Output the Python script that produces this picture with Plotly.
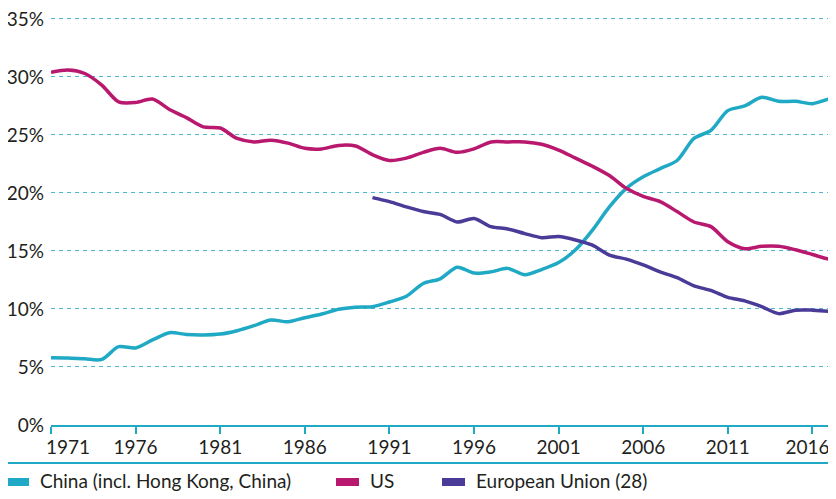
import plotly.graph_objects as go

# share of world total, per cent
years = list(range(1971, 2019))
china = [5.8, 5.78, 5.7, 5.65, 6.75, 6.64, 7.33, 7.96, 7.8, 7.76,
         7.84, 8.13, 8.56, 9.05, 8.9, 9.25, 9.57, 9.97, 10.15, 10.2,
         10.6, 11.1, 12.2, 12.6, 13.6, 13.1, 13.2, 13.5, 12.95, 13.4,
         14.0, 15.1, 16.8, 18.8, 20.4, 21.4, 22.1, 22.8, 24.7, 25.4,
         27.1, 27.5, 28.25, 27.9, 27.9, 27.7, 28.1, 28.2]
us = [30.4, 30.6, 30.3, 29.3, 27.85, 27.8, 28.1, 27.2, 26.5, 25.7,
      25.6, 24.7, 24.4, 24.55, 24.3, 23.85, 23.8, 24.1, 24.05, 23.3,
      22.8, 23.0, 23.5, 23.85, 23.5, 23.8, 24.4, 24.4, 24.4, 24.2,
      23.7, 23.0, 22.3, 21.5, 20.4, 19.7, 19.25, 18.4, 17.5, 17.1,
      15.8, 15.2, 15.4, 15.4, 15.1, 14.7, 14.3, 14.4]
eu_years = list(range(1990, 2019))
eu = [19.6, 19.25, 18.8, 18.4, 18.15, 17.5, 17.8, 17.1, 16.9, 16.5,
      16.15, 16.25, 15.95, 15.5, 14.65, 14.3, 13.8, 13.2, 12.7, 12.0,
      11.6, 11.0, 10.7, 10.2, 9.6, 9.9, 9.9, 9.8, 9.6]

x_ticks = list(range(1971, 2017, 5))
y_ticks = [0, 5, 10, 15, 20, 25, 30, 35]

TEAL = '#1fa9c4'
MAGENTA = '#b8186e'
PURPLE = '#4a3b98'
TXT = '#231f20'
FONT = 'Lato, Liberation Sans, sans-serif'

# the page body keeps an 8px margin on every side, so the figure is made
# 16px smaller (no scrollbars) and page positions are shifted by OFF
OFF = 8
W, H = 836 - 2 * OFF, 499 - 2 * OFF
L, R, T, B = 51 - OFF, 0, 4, 66
X_RANGE = [1971, 2016.92]
Y_TOP = 35.6


def px(x, y):
    # pixel position on the page -> paper coordinates
    x, y = x - OFF, y - OFF
    return (x - L) / (W - L - R), (H - B - y) / (H - T - B)


fig = go.Figure()

for name, xs, ys, col in [('China (incl. Hong Kong, China)', years, china, TEAL),
                          ('US', years, us, MAGENTA),
                          ('European Union (28)', eu_years, eu, PURPLE)]:
    fig.add_trace(go.Scatter(
        x=xs, y=ys, name=name, mode='lines',
        line=dict(color=col, width=3.5, shape='spline', smoothing=0.8),
        showlegend=False,
    ))

# hand made legend below the axis
legend_items = [('China (incl. Hong Kong, China)', TEAL, 6),
                ('US', MAGENTA, 336),
                ('European Union (28)', PURPLE, 442)]
shapes = []
annotations = []
for label, col, x0 in legend_items:
    a = px(max(x0, OFF), 478)
    b = px(x0 + 23, 486)
    shapes.append(dict(type='rect', xref='paper', yref='paper',
                       x0=a[0], x1=b[0], y0=a[1], y1=b[1],
                       fillcolor=col, line=dict(width=0)))
    t = px(x0 + 32, 480)
    annotations.append(dict(text=label, xref='paper', yref='paper',
                            x=t[0], y=t[1], xanchor='left', yanchor='middle',
                            showarrow=False, font=dict(size=19, color=TXT, family=FONT)))

s0 = px(OFF, 463)
s1 = px(836 - OFF, 463)
shapes.append(dict(type='line', xref='paper', yref='paper',
                   x0=s0[0], x1=s1[0], y0=s0[1], y1=s1[1],
                   line=dict(color=TEAL, width=2)))

tick_text = [str(v) for v in x_ticks]
tick_text[0] = '\u00a0' * 7 + tick_text[0]
tick_text[-1] = tick_text[-1] + '\u00a0' * 2

fig.update_layout(
    width=W, height=H,
    margin=dict(l=L, r=R, t=T, b=B, autoexpand=False),
    plot_bgcolor='white', paper_bgcolor='white',
    font=dict(family=FONT, size=19, color=TXT),
    xaxis=dict(
        range=X_RANGE, automargin=False,
        tickvals=x_ticks, ticktext=tick_text,
        showgrid=False, zeroline=False,
        showline=True, linecolor=TEAL, linewidth=2,
        ticks='outside', ticklen=7, tickwidth=1.5, tickcolor=TEAL,
        ticklabelstandoff=-3, ticklabeloverflow='allow',
        tickfont=dict(size=19, color=TXT),
    ),
    yaxis=dict(
        range=[0, Y_TOP], automargin=False,
        tickvals=y_ticks, ticktext=[f'{v}%' for v in y_ticks],
        showgrid=True, gridcolor='#4db8d0', gridwidth=1, griddash='4px,4px',
        zeroline=False, showline=False,
        ticks='', ticklabelstandoff=6, ticklabeloverflow='allow',
        tickfont=dict(size=19, color=TXT),
    ),
    shapes=shapes,
    annotations=annotations,
)

fig._config = {'displayModeBar': False}
fig.write_html("out.html")
